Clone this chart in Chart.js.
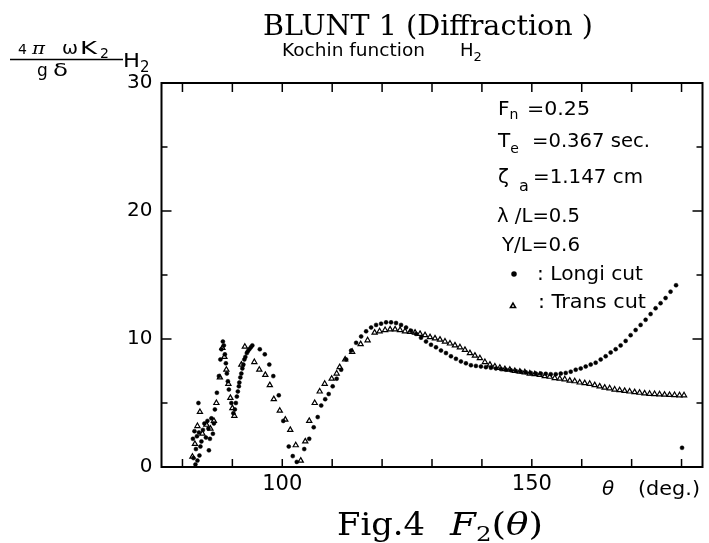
<!DOCTYPE html>
<html>
<head>
<meta charset="utf-8">
<script src="https://cdn.jsdelivr.net/npm/chart.js@4.4.0/dist/chart.umd.min.js"></script>
<style>
  html, body { margin: 0; padding: 0; background: #fff; }
  #wrap { width: 709px; height: 543px; }
</style>
</head>
<body>
<div id="wrap"><canvas id="kochinChart" width="709" height="543"></canvas></div>
<script>
// Longi cut (dots) - theta in deg, H2 value
const thetaLongi = [82.1, 82.2, 82.4, 82.6, 82.7, 82.9, 83.0, 83.2, 83.3, 83.4, 83.6, 83.8, 84.1, 84.4, 84.7,
  85.0, 85.2, 85.3, 85.5, 85.8, 86.1, 86.3, 86.5, 86.9, 87.3, 87.6, 87.8, 88.1, 88.3, 88.5, 88.7, 88.9, 89.1,
  89.3, 89.8, 90.2, 90.5, 90.7, 90.9, 91.1, 91.3, 91.4, 91.6, 91.8, 92.0, 92.2, 92.4, 92.6, 92.9, 93.1, 93.4,
  93.7, 94.0, 95.5,
  96.5, 97.4, 98.2, 99.3, 100.2, 101.3, 102.1, 102.9,
  104.4, 105.4, 106.3, 107.1, 107.8, 108.6, 109.3, 110.1, 110.9, 111.8, 112.8, 113.8, 114.8, 115.8, 116.8, 117.8,
  118.8, 119.8, 120.8, 121.8, 122.8, 123.8, 124.8, 125.8, 126.8, 127.8, 128.8, 129.8, 130.8, 131.8, 132.8, 133.8,
  134.8, 135.8, 136.8, 137.8, 138.8, 139.8, 140.8, 141.8, 142.8, 143.8, 144.8, 145.8, 146.8, 147.8, 148.8, 149.8,
  150.8, 151.8, 152.8, 153.8, 154.8, 155.8, 156.8, 157.8, 158.8, 159.8, 160.8, 161.8, 162.8, 163.8, 164.8, 165.8,
  166.8, 167.8, 168.8, 169.8, 170.8, 171.8, 172.8, 173.8, 174.8, 175.8, 176.8, 177.8, 178.9, 180.1];
const h2Longi = [2.2, 0.7, 2.8, 0.2, 1.4, 2.4, 0.5, 5.0, 2.7, 0.9, 1.6, 2.0, 2.9, 3.4, 2.3,
  3.6, 3.0, 1.3, 2.2, 3.8, 2.6, 3.4, 4.5, 5.8, 7.1, 8.4, 9.2, 9.8, 9.5, 8.8, 8.1, 7.3, 6.7,
  6.05, 5.0, 4.2, 4.5, 5.0, 5.5, 5.9, 6.3, 6.6, 7.0, 7.3, 7.7, 8.0, 8.4, 8.6, 8.9, 9.05, 9.2,
  9.35, 9.5, 9.2,
  8.8, 8.0, 7.1, 5.6, 3.6, 1.6, 0.85, 0.4,
  1.4, 2.2, 3.1, 3.9, 4.8, 5.3, 5.7, 6.3, 6.9, 7.6, 8.4, 9.1, 9.7, 10.2, 10.6, 10.9,
  11.1, 11.2, 11.3, 11.3, 11.25, 11.1, 10.9, 10.65, 10.4, 10.1, 9.8, 9.55, 9.35, 9.1, 8.9, 8.65,
  8.45, 8.25, 8.1, 7.95, 7.9, 7.85, 7.8, 7.75, 7.7, 7.65, 7.6, 7.55, 7.5, 7.45, 7.4, 7.35,
  7.3, 7.3, 7.28, 7.25, 7.25, 7.3, 7.35, 7.45, 7.6, 7.7, 7.85, 8.0, 8.15, 8.4, 8.65, 8.95,
  9.2, 9.5, 9.85, 10.3, 10.7, 11.1, 11.5, 11.95, 12.4, 12.8, 13.2, 13.7, 14.2, 1.5];

// Trans cut (triangles)
const thetaTrans = [82.0, 82.5, 83.0, 83.5, 84.0, 84.8, 85.6, 86.3, 86.8,
  87.5, 88.0, 88.4, 88.8, 89.2, 89.6, 90.0, 90.4, 91.8, 92.5,
  94.4, 95.4, 96.6, 97.5, 98.3, 99.5, 100.6, 101.6, 102.7, 103.7,
  104.6, 105.4, 106.5, 107.5, 108.5, 109.9, 110.9, 111.5, 112.6, 114.0, 115.7, 117.1, 118.5, 119.5,
  120.6, 121.6, 122.6, 123.6, 124.6, 125.6, 126.6, 127.6, 128.6, 129.6, 130.6, 131.6, 132.6, 133.6,
  134.6, 135.6, 136.6, 137.6, 138.6, 139.6, 140.6, 141.6, 142.6, 143.6, 144.6, 145.6, 146.6, 147.6,
  148.6, 149.6, 150.6, 151.6, 152.6, 153.6, 154.6, 155.6, 156.6, 157.6, 158.6, 159.6, 160.6, 161.6,
  162.6, 163.6, 164.6, 165.6, 166.6, 167.6, 168.6, 169.6, 170.6, 171.6, 172.6, 173.6, 174.6, 175.6,
  176.6, 177.6, 178.6, 179.6, 180.5];
const h2Trans = [0.8, 1.8, 3.2, 4.3, 2.6, 3.3, 3.0, 3.6, 5.0,
  7.0, 9.3, 8.6, 7.6, 6.5, 5.4, 4.6, 4.0, 8.0, 9.4,
  8.2, 7.6, 7.2, 6.4, 5.3, 4.4, 3.7, 2.9, 1.7, 0.5,
  2.0, 3.6, 5.0, 5.9, 6.5, 6.9, 7.3, 7.8, 8.4, 9.0, 9.6, 9.9, 10.5, 10.6,
  10.7, 10.75, 10.75, 10.7, 10.6, 10.55, 10.5, 10.4, 10.3, 10.15, 10.05, 9.95, 9.8, 9.65,
  9.5, 9.35, 9.15, 8.9, 8.7, 8.5, 8.2, 8.0, 7.85, 7.75, 7.65, 7.6, 7.5, 7.45,
  7.4, 7.3, 7.25, 7.2, 7.1, 7.05, 6.95, 6.9, 6.85, 6.75, 6.7, 6.6, 6.55, 6.5,
  6.4, 6.3, 6.2, 6.15, 6.05, 6.0, 5.95, 5.9, 5.85, 5.8, 5.75, 5.72, 5.7, 5.68,
  5.65, 5.63, 5.62, 5.6, 5.6];

// axis ticks
const xTicks = [80, 90, 100, 110, 120, 130, 140, 150, 160, 170, 180];
const xLabels = [100, 150];
const yTicks = [0, 5, 10, 15, 20, 25, 30];
const yLabels = [0, 10, 20, 30];

const SANS = '"DejaVu Sans", sans-serif';
const SERIF = '"DejaVu Serif", serif';

// draw a row of text pieces (sub/superscripts), optionally squeezed/stretched to a width
function drawRuns(ctx, x, y, runs, width) {
  let total = 0;
  runs.forEach(r => { ctx.font = r.font; total += ctx.measureText(r.t).width + (r.dx || 0); });
  const sx = width ? width / total : 1;
  ctx.save();
  ctx.translate(x, y);
  ctx.scale(sx, 1);
  let cx = 0;
  runs.forEach(r => {
    ctx.font = r.font;
    cx += (r.dx || 0);
    ctx.fillText(r.t, cx, r.dy || 0);
    cx += ctx.measureText(r.t).width;
  });
  ctx.restore();
}

// frame + inward tick marks
const frameTicks = {
  id: 'frameTicks',
  afterDatasetsDraw(chart) {
    const { ctx, chartArea: a, scales: { x, y } } = chart;
    ctx.save();
    ctx.strokeStyle = '#000';
    ctx.lineWidth = 2;
    ctx.strokeRect(a.left, a.top, a.right - a.left, a.bottom - a.top);
    ctx.lineWidth = 1.5;
    ctx.beginPath();
    xTicks.forEach(v => {
      const px = x.getPixelForValue(v);
      ctx.moveTo(px, a.bottom); ctx.lineTo(px, a.bottom - 8);
      ctx.moveTo(px, a.top); ctx.lineTo(px, a.top + 9);
    });
    yTicks.forEach(v => {
      if (v === 0 || v === 30) return;
      const py = y.getPixelForValue(v);
      const len = v % 10 === 0 ? 10 : 6;
      ctx.moveTo(a.left, py); ctx.lineTo(a.left + len, py);
      ctx.moveTo(a.right, py); ctx.lineTo(a.right - len, py);
    });
    ctx.stroke();
    ctx.restore();
  }
};

// titles, axis captions and the parameter block
const textLayer = {
  id: 'textLayer',
  afterDraw(chart) {
    const ctx = chart.ctx;
    ctx.save();
    ctx.fillStyle = '#000';
    ctx.strokeStyle = '#000';
    ctx.textAlign = 'left';
    ctx.textBaseline = 'alphabetic';

    drawRuns(ctx, 263, 35, [{ t: 'BLUNT 1 (Diffraction )', font: '27px ' + SERIF }], 330);

    drawRuns(ctx, 282, 56, [{ t: 'Kochin function', font: '18px ' + SANS }], 143);
    drawRuns(ctx, 460, 56, [
      { t: 'H', font: '18px ' + SANS },
      { t: '2', font: '13px ' + SANS, dy: 5 }
    ]);

    // y axis quantity  4πωK2 / gδ  H2
    drawRuns(ctx, 18, 54, [{ t: '4', font: '14px ' + SANS }]);
    drawRuns(ctx, 32, 54, [{ t: 'π', font: 'italic 17px ' + SERIF }], 13);
    drawRuns(ctx, 62, 54, [{ t: 'ω', font: '18px ' + SANS }], 16);
    drawRuns(ctx, 80, 54, [{ t: 'K', font: '18px ' + SANS }], 17);
    drawRuns(ctx, 100, 58, [{ t: '2', font: '14px ' + SANS }]);
    ctx.lineWidth = 1.5;
    ctx.beginPath();
    ctx.moveTo(10, 59.5); ctx.lineTo(123, 59.5);
    ctx.stroke();
    drawRuns(ctx, 123, 67, [{ t: 'H', font: '19px ' + SANS }], 17);
    drawRuns(ctx, 140, 72, [{ t: '2', font: '15px ' + SANS }]);
    drawRuns(ctx, 37, 76, [{ t: 'g', font: '17px ' + SANS }]);
    drawRuns(ctx, 53, 76, [{ t: 'δ', font: '17px ' + SANS }], 15);

    // parameter block
    const f = '20px ' + SANS, fs = '14px ' + SANS;
    drawRuns(ctx, 498, 115, [{ t: 'F', font: f }, { t: 'n', font: fs, dy: 4 }]);
    drawRuns(ctx, 527, 115, [{ t: '=0.25', font: f }], 63);
    drawRuns(ctx, 498, 147, [{ t: 'T', font: f }, { t: 'e', font: fs, dy: 6 }]);
    drawRuns(ctx, 532, 147, [{ t: '=0.367 sec.', font: f }], 118);
    drawRuns(ctx, 498, 183, [{ t: 'ζ', font: f }]);
    drawRuns(ctx, 519, 191, [{ t: 'a', font: '16px ' + SANS }]);
    drawRuns(ctx, 533, 183, [{ t: '=1.147 cm', font: f }], 110);
    drawRuns(ctx, 497, 222, [{ t: 'λ /L=0.5', font: f }], 83);
    drawRuns(ctx, 502, 251, [{ t: 'Y/L=0.6', font: f }], 78);
    drawRuns(ctx, 537, 280, [{ t: ': Longi cut', font: f }], 106);
    drawRuns(ctx, 538, 308, [{ t: ': Trans cut', font: f }], 108);
    Chart.helpers.drawPoint(ctx, { pointStyle: 'circle', radius: 2, borderWidth: 1 }, 514, 274);
    ctx.fillStyle = '#fff';
    Chart.helpers.drawPoint(ctx, { pointStyle: 'triangle', radius: 3, borderWidth: 1.3 }, 513, 306);
    ctx.fillStyle = '#000';

    // x axis caption
    drawRuns(ctx, 602, 495, [{ t: 'θ', font: 'italic 20px ' + SANS }]);
    drawRuns(ctx, 638, 495, [{ t: '(deg.)', font: '20px ' + SANS }], 62);

    // figure caption
    drawRuns(ctx, 337, 535, [{ t: 'Fig.4', font: '32px ' + SERIF }], 88);
    drawRuns(ctx, 450, 535, [
      { t: 'F', font: 'italic 32px ' + SERIF },
      { t: '2', font: '21px ' + SERIF, dy: 6 },
      { t: '(', font: '32px ' + SERIF },
      { t: 'θ', font: 'italic 32px ' + SERIF },
      { t: ')', font: '32px ' + SERIF }
    ], 93);
    ctx.restore();
  }
};

const ctx = document.getElementById('kochinChart').getContext('2d');
const kochinChart = new Chart(ctx, {
  type: 'scatter',
  data: {
    datasets: [
      {
        label: 'Trans cut',
        data: thetaTrans.map((t, i) => ({ x: t, y: h2Trans[i] })),
        pointStyle: 'triangle',
        pointRadius: 3,
        pointBorderWidth: 1.2,
        borderColor: '#000',
        backgroundColor: '#fff',
        order: 2
      },
      {
        label: 'Longi cut',
        data: thetaLongi.map((t, i) => ({ x: t, y: h2Longi[i] })),
        pointStyle: 'circle',
        pointRadius: 2,
        pointBorderWidth: 0.5,
        borderColor: '#000',
        backgroundColor: '#000',
        order: 1
      }
    ]
  },
  options: {
    responsive: false,
    animation: false,
    devicePixelRatio: 1,
    layout: { padding: { left: 0, right: 6.5, top: 83, bottom: 0 } },
    plugins: {
      legend: { display: false },
      title: { display: false },
      tooltip: { enabled: false }
    },
    scales: {
      x: {
        type: 'linear',
        min: 75.8,
        max: 184.2,
        grid: { display: false, drawTicks: false },
        border: { display: false },
        afterBuildTicks: scale => { scale.ticks = xTicks.map(v => ({ value: v })); },
        afterFit: scale => { scale.height = 76; },
        ticks: {
          autoSkip: false,
          maxRotation: 0,
          padding: 5,
          color: '#000',
          font: { family: 'DejaVu Sans', size: 21 },
          callback: v => (xLabels.includes(v) ? String(v) : '')
        }
      },
      y: {
        type: 'linear',
        min: 0,
        max: 30,
        grid: { display: false, drawTicks: false },
        border: { display: false },
        afterBuildTicks: scale => { scale.ticks = yTicks.map(v => ({ value: v })); },
        afterFit: scale => { scale.width = 161.5; },
        ticks: {
          autoSkip: false,
          padding: 9,
          color: '#000',
          font: { family: 'DejaVu Sans', size: 20 },
          callback: v => (yLabels.includes(v) ? String(v) : '')
        }
      }
    }
  },
  plugins: [frameTicks, textLayer]
});
</script>
</body>
</html>
